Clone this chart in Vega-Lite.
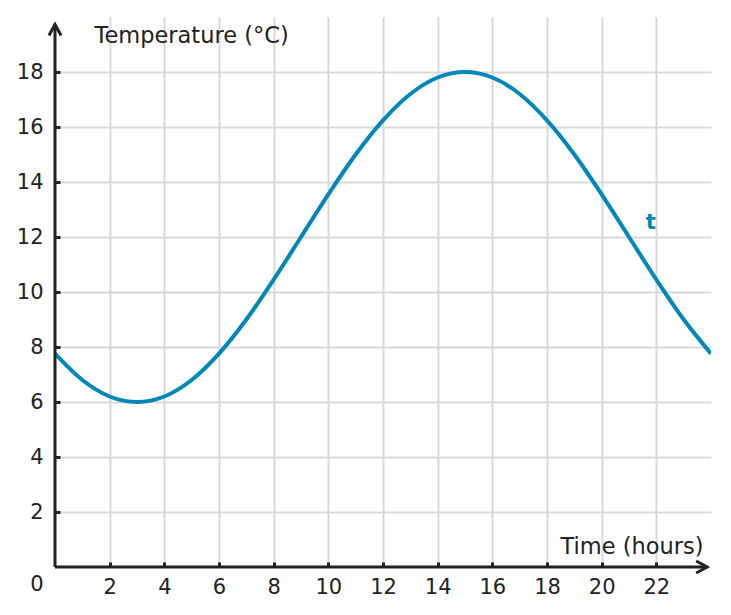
{
  "$schema": "https://vega.github.io/schema/vega-lite/v6.json",
  "description": "Daily temperature curve t over 24 hours",
  "width": 656,
  "height": 550,
  "autosize": {"type": "none"},
  "padding": {"left": 55, "top": 17, "right": 20, "bottom": 48},
  "background": "white",
  "config": {
    "font": "DejaVu Sans",
    "view": {"stroke": null},
    "text": {"font": "DejaVu Sans"},
    "axis": {
      "domain": false,
      "grid": true,
      "gridColor": "#d9d9d9",
      "gridWidth": 2,
      "tickColor": "#222222",
      "tickWidth": 3,
      "tickSize": -5,
      "labelColor": "#222222",
      "labelFontSize": 21,
      "labelFont": "DejaVu Sans",
      "titleFont": "DejaVu Sans",
      "titleFontSize": 22.5,
      "titleFontWeight": "normal",
      "titleColor": "#222222"
    }
  },
  "datasets": {
    "curve": [
      {"hour": 0, "temp": 7.76},
      {"hour": 1, "temp": 6.8},
      {"hour": 2, "temp": 6.2},
      {"hour": 3, "temp": 6.0},
      {"hour": 4, "temp": 6.2},
      {"hour": 5, "temp": 6.8},
      {"hour": 6, "temp": 7.76},
      {"hour": 7, "temp": 9.0},
      {"hour": 8, "temp": 10.45},
      {"hour": 9, "temp": 12.0},
      {"hour": 10, "temp": 13.55},
      {"hour": 11, "temp": 15.0},
      {"hour": 12, "temp": 16.24},
      {"hour": 13, "temp": 17.2},
      {"hour": 14, "temp": 17.8},
      {"hour": 15, "temp": 18.0},
      {"hour": 16, "temp": 17.8},
      {"hour": 17, "temp": 17.2},
      {"hour": 18, "temp": 16.24},
      {"hour": 19, "temp": 15.0},
      {"hour": 20, "temp": 13.55},
      {"hour": 21, "temp": 12.0},
      {"hour": 22, "temp": 10.45},
      {"hour": 23, "temp": 9.0},
      {"hour": 24, "temp": 7.76}
    ]
  },
  "encoding": {
    "x": {
      "field": "hour",
      "type": "quantitative",
      "scale": {"domain": [0, 24], "nice": false},
      "axis": {
        "values": [2, 4, 6, 8, 10, 12, 14, 16, 18, 20, 22],
        "labelPadding": 14,
        "title": "Time (hours)",
        "titleAlign": "right",
        "titleBaseline": "middle",
        "titleX": 648,
        "titleY": -21
      }
    },
    "y": {
      "field": "temp",
      "type": "quantitative",
      "scale": {"domain": [0, 20], "nice": false},
      "axis": {
        "values": [2, 4, 6, 8, 10, 12, 14, 16, 18],
        "labelPadding": 17,
        "title": "Temperature (°C)",
        "titleAngle": 0,
        "titleAlign": "left",
        "titleBaseline": "middle",
        "titleX": 39,
        "titleY": 18
      }
    }
  },
  "layer": [
    {
      "data": {"name": "curve"},
      "mark": {"type": "line", "color": "#0088b8", "strokeWidth": 4, "interpolate": "monotone", "clip": true}
    },
    {
      "data": {"values": [{"hour": 0, "temp": 0, "hour2": 23.86, "temp2": 0}, {"hour": 0, "temp": 0, "hour2": 0, "temp2": 19.73}]},
      "mark": {"type": "rule", "color": "#222222", "strokeWidth": 3},
      "encoding": {
        "x2": {"field": "hour2"},
        "y2": {"field": "temp2"}
      }
    },
    {
      "data": {"values": [{"hour": 0, "temp": 19.73}]},
      "mark": {"type": "point", "shape": "M-0.55,1L0,0L0.55,1", "size": 484, "filled": false, "stroke": "#222222", "strokeWidth": 3, "opacity": 1}
    },
    {
      "data": {"values": [{"hour": 23.86, "temp": 0}]},
      "mark": {"type": "point", "shape": "M-0.55,1L0,0L0.55,1", "size": 484, "angle": 90, "filled": false, "stroke": "#222222", "strokeWidth": 3, "opacity": 1}
    },
    {
      "data": {"values": [{"hour": 0, "temp": 0, "label": "0"}]},
      "mark": {"type": "text", "fontSize": 21, "color": "#222222", "dx": -18, "dy": 18},
      "encoding": {"text": {"field": "label"}}
    },
    {
      "data": {"values": [{"hour": 21.8, "temp": 12.5, "label": "t"}]},
      "mark": {"type": "text", "fontSize": 21, "fontWeight": "bold", "color": "#0088b8"},
      "encoding": {"text": {"field": "label"}}
    }
  ]
}
